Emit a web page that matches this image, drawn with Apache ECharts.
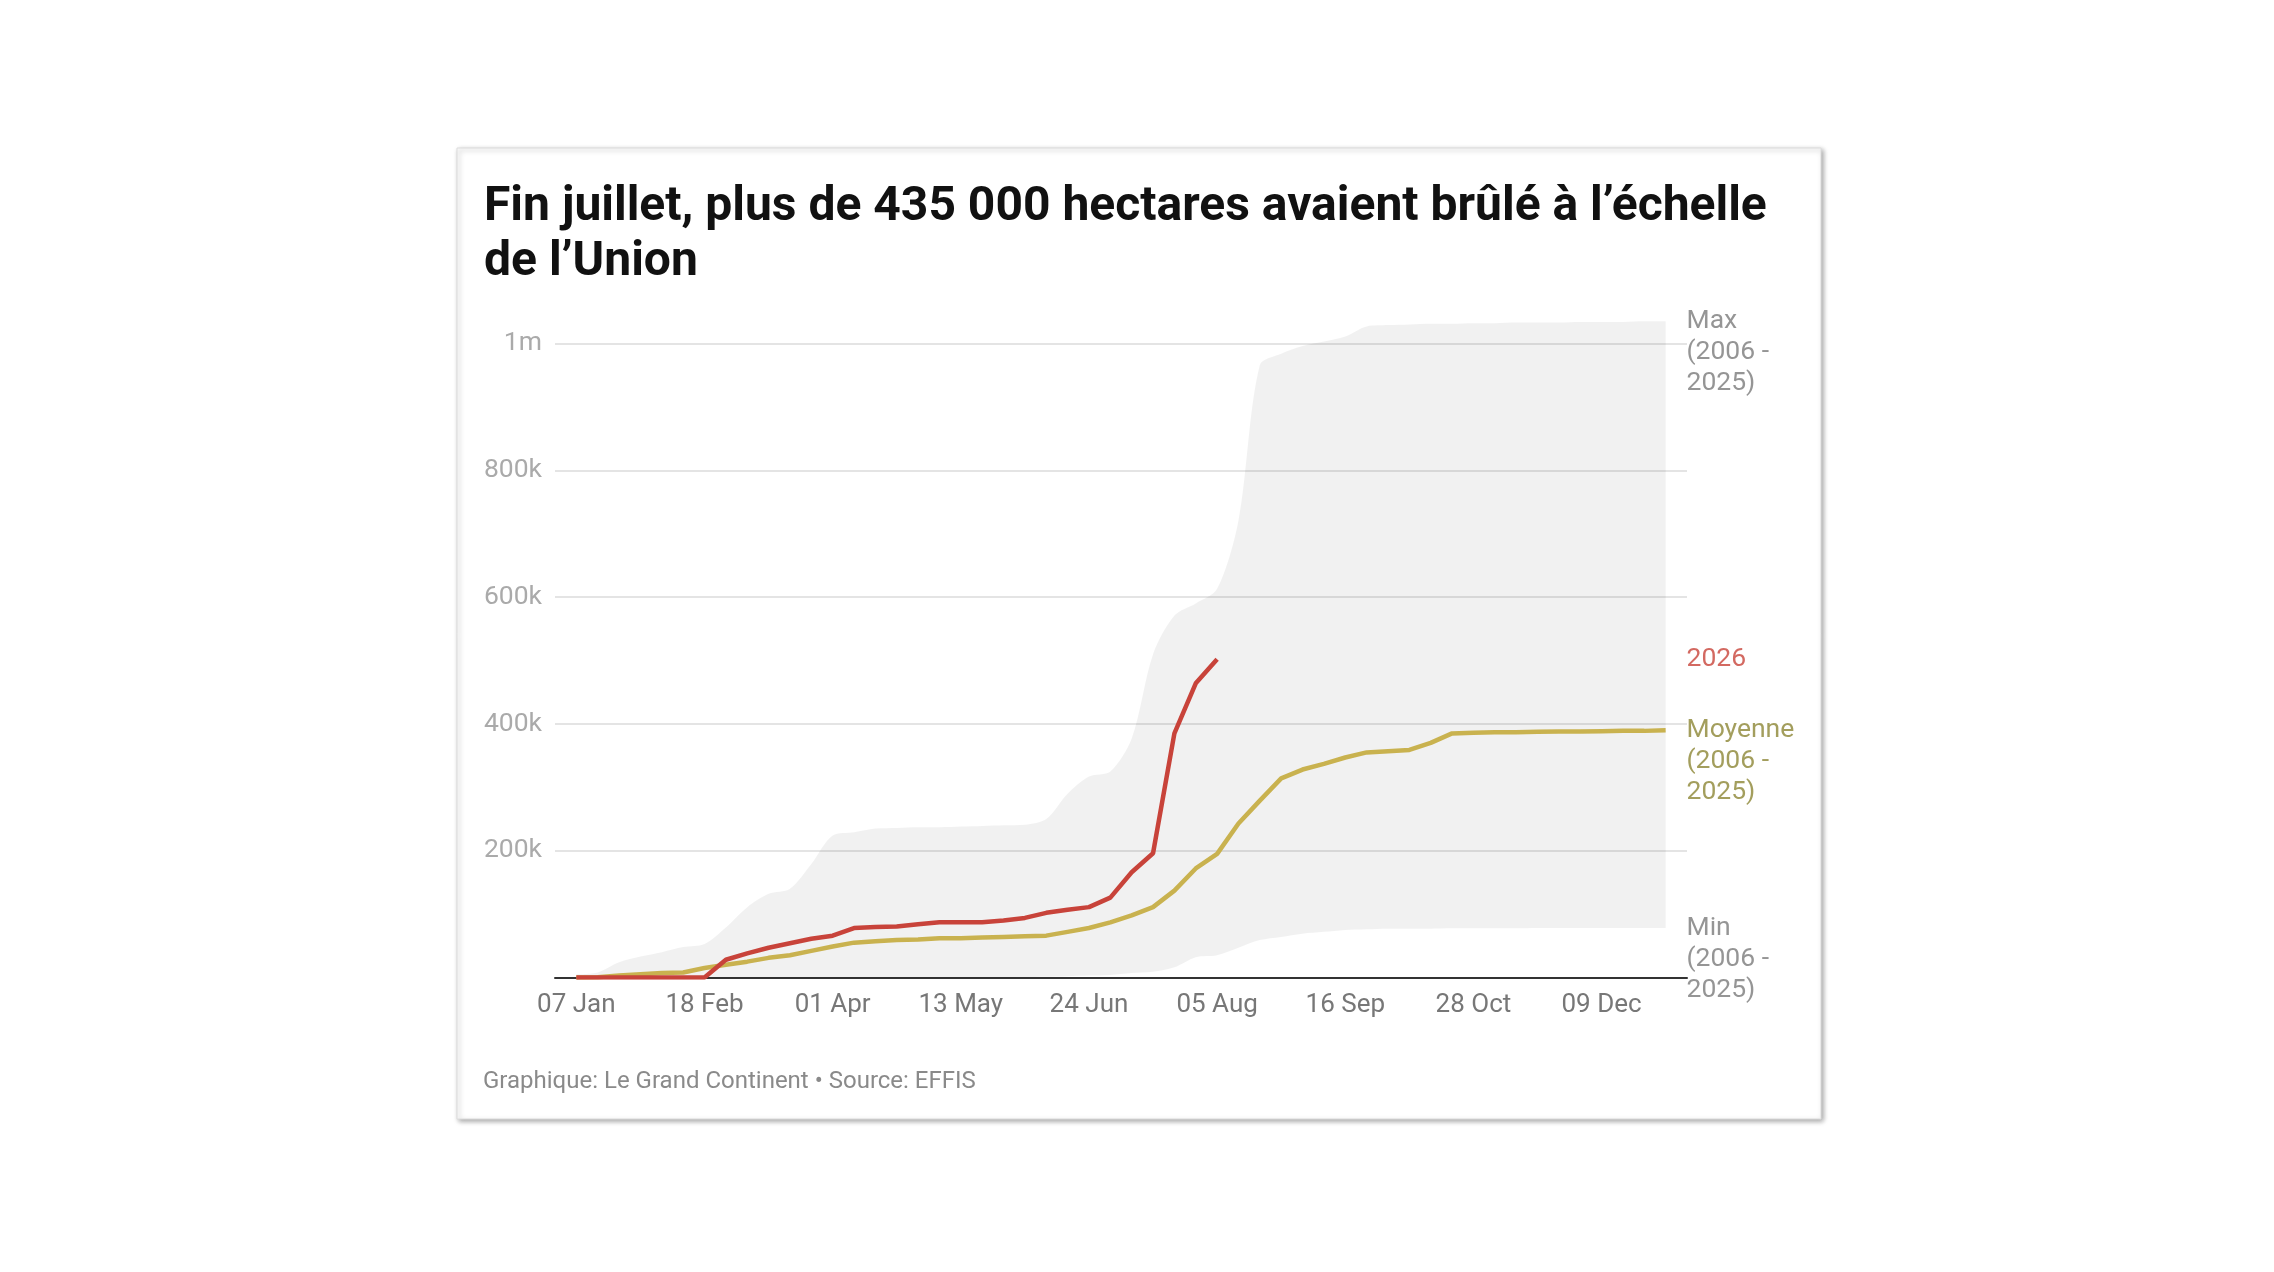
<!DOCTYPE html>
<html>
<head>
<meta charset="utf-8">
<script src="https://cdn.jsdelivr.net/npm/echarts@6/dist/echarts.min.js"></script>
<style>
  html, body { margin: 0; padding: 0; background: #fff; }
  #chart { width: 2274px; height: 1272px; }
</style>
</head>
<body>
<div id="chart"></div>
<script>
(function () {

    // weekly points, week 0 = 07 Jan ... week 51 = 30 Dec (thousands of hectares)
    // the axis runs one week either side: 31 Dec ... 06 Jan
    var MONTHS = ['Jan', 'Feb', 'Mar', 'Apr', 'May', 'Jun', 'Jul', 'Aug', 'Sep', 'Oct', 'Nov', 'Dec'];
    var categories = [];
    for (var i = -1; i <= 52; i++) {
        var d = new Date(Date.UTC(2026, 0, 7 + i * 7));
        var day = d.getUTCDate();
        categories.push((day < 10 ? '0' : '') + day + ' ' + MONTHS[d.getUTCMonth()]);
    }

    var xTickLabels = ['07 Jan', '18 Feb', '01 Apr', '13 May', '24 Jun', '05 Aug', '16 Sep', '28 Oct', '09 Dec'];

    var maxValues = [5, 8, 24, 33, 40, 48, 53, 79, 111, 132, 140, 179, 224, 229, 235, 236, 237, 237, 238, 239,
        240, 241, 250, 290, 317, 325, 377, 510, 571, 590, 613, 721, 966, 984, 996, 1003, 1011, 1027, 1029, 1030,
        1031, 1031, 1032, 1032, 1033, 1033, 1033, 1034, 1034, 1034, 1035, 1035];

    var minValues = [0, 0, 0, 0, 0, 0, 0, 0, 0, 0, 0, 0, 0, 0, 0, 0, 0, 0, 0, 0,
        0, 0.5, 1, 2, 3, 4, 7, 9, 16, 32, 35, 47, 59, 64, 69, 72, 75, 76, 77, 77,
        77, 77.5, 77.5, 77.5, 77.5, 78, 78, 78, 78, 78, 78, 78];

    var meanValues = [0, 0.5, 3, 5, 7, 8, 15, 20, 25, 31, 35, 42, 49, 55, 57, 59, 60, 62, 62, 63,
        64, 65, 66, 72, 78, 87, 98, 111, 137, 172, 195, 243, 279, 314, 328, 337, 347, 355, 357, 359,
        370, 385, 386, 387, 387, 387.5, 388, 388, 388.5, 389, 389, 390];

    var values2026 = [0, 0, 0, 0, 0, 0, 0, 28, 38, 47, 54, 61, 66, 78, 79.5, 80.5, 84, 87, 87, 87,
        90, 94, 102, 107, 111, 126, 166, 196, 385, 464, 502];

    var seriesNames = ['Max\n(2006 -\n2025)', '2026', 'Moyenne\n(2006 -\n2025)', 'Min\n(2006 -\n2025)'];
    var labelColors = ['#7a7a7a', '#c8433a', '#8c8634', '#7a7a7a'];

    var RED = '#c8433a';
    var GOLD = '#c9b24f';

    function last(arr) { return arr[arr.length - 1]; }

    // shift by one slot: category 0 is the padding week before 07 Jan
    function padded(arr) {
        return [null].concat(arr);
    }

    var bandDiff = maxValues.map(function (v, i) { return v - minValues[i]; });

    var labelIndex = categories.length - 1;
    var endLabels = [last(maxValues), last(values2026), last(meanValues), last(minValues)].map(function (v, i) {
        return {
            value: [labelIndex, v],
            label: { color: labelColors[i], formatter: seriesNames[i] }
        };
    });

    var option = {
        animation: false,
        textStyle: { fontFamily: 'Roboto' },
        graphic: [{
            type: 'rect',
            z: -10,
            shape: { x: 457, y: 148, width: 1364, height: 971 },
            style: {
                fill: '#fff',
                stroke: '#dcdcdc',
                lineWidth: 1,
                shadowBlur: 5,
                shadowOffsetX: 2,
                shadowOffsetY: 2,
                shadowColor: 'rgba(0,0,0,0.35)'
            }
        }],
        title: [{
            text: 'Fin juillet, plus de 435 000 hectares avaient brûlé à l’échelle\nde l’Union',
            left: 479,
            top: 175,
            textStyle: {
                fontFamily: 'Roboto',
                fontSize: 48,
                fontWeight: 'bold',
                lineHeight: 55,
                color: '#111'
            }
        }, {
            text: 'Graphique: Le Grand Continent • Source: EFFIS',
            left: 478,
            top: 1065,
            textStyle: {
                fontFamily: 'Roboto',
                fontSize: 24,
                fontWeight: 'normal',
                color: '#8a8a8a'
            }
        }],
        grid: {
            left: 555,
            right: 587,
            top: 343.5,
            bottom: 294.5,
            containLabel: false
        },
        xAxis: {
            type: 'category',
            boundaryGap: false,
            data: categories,
            axisLine: { show: true, lineStyle: { color: '#333', width: 2 } },
            axisTick: { show: false },
            splitLine: { show: false },
            axisLabel: {
                interval: function (index, value) {
                    return xTickLabels.indexOf(value) >= 0;
                },
                color: '#777',
                fontSize: 26,
                margin: 15
            }
        },
        yAxis: {
            type: 'value',
            min: 0,
            max: 1000,
            interval: 200,
            axisLine: { show: false },
            axisTick: { show: false },
            splitLine: { lineStyle: { color: '#e4e4e4', width: 2 } },
            axisLabel: {
                color: '#aaa',
                fontSize: 26.5,
                margin: 13,
                formatter: function (v) {
                    if (v === 0) { return ''; }
                    if (v >= 1000) { return '1m'; }
                    return v + 'k';
                }
            }
        },
        series: [{
            name: 'min',
            type: 'line',
            stack: 'band',
            data: padded(minValues),
            smooth: 0.3,
            symbol: 'none',
            clip: false,
            lineStyle: { opacity: 0 },
            silent: true
        }, {
            name: 'band',
            type: 'line',
            stack: 'band',
            data: padded(bandDiff),
            smooth: 0.3,
            symbol: 'none',
            clip: false,
            lineStyle: { opacity: 0 },
            areaStyle: { color: 'rgba(0,0,0,0.055)', opacity: 1 },
            silent: true
        }, {
            name: 'Moyenne',
            type: 'line',
            data: padded(meanValues),
            symbol: 'none',
            lineStyle: { color: GOLD, width: 4.5 },
            z: 3
        }, {
            name: '2026',
            type: 'line',
            data: padded(values2026),
            symbol: 'none',
            lineStyle: { color: RED, width: 4.5 },
            z: 4
        }, {
            name: 'labels',
            type: 'scatter',
            data: endLabels,
            symbolSize: 1,
            clip: false,
            itemStyle: { color: 'transparent' },
            label: {
                show: true,
                position: [0, 0],
                offset: [0, -15],
                align: 'left',
                verticalAlign: 'top',
                fontSize: 26.5,
                lineHeight: 31,
                fontFamily: 'Roboto'
            },
            silent: true
        }]
    };

    var myChart = echarts.init(document.getElementById('chart'));
    myChart.setOption(option);

})();
</script>
</body>
</html>
